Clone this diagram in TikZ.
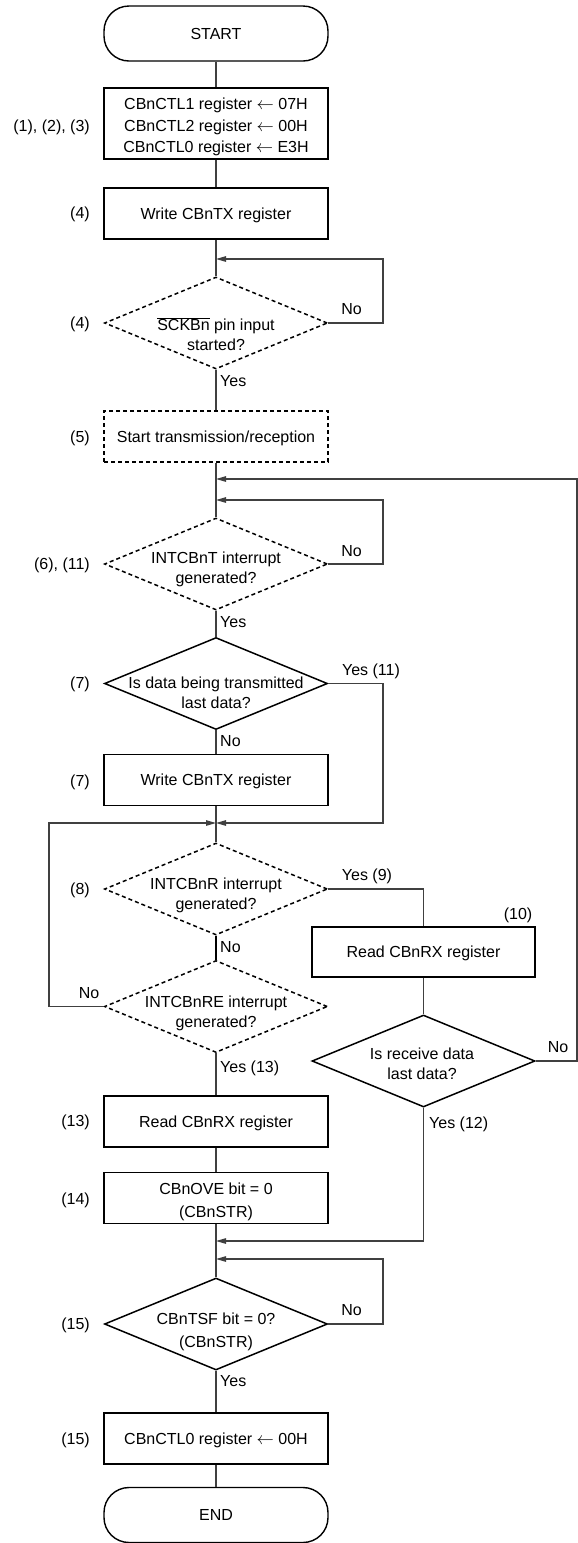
\documentclass[tikz,border=0pt]{standalone}
\usepackage{fontspec}
\setmainfont{Liberation Sans}
\usetikzlibrary{shapes.geometric,arrows.meta}
\begin{document}
\begin{tikzpicture}[x=1pt,y=-1pt,
  every node/.style={font=\fontsize{16}{20}\selectfont, inner sep=0pt},
  tx/.style={text height=11.5pt, text depth=0pt},
  conn/.style={draw=black!75, line width=1.1pt},
  arr/.style={conn, -{Triangle[length=10pt,width=5.5pt]}},
  term/.style={draw, line width=1.4pt, rounded corners=25pt, minimum width=224pt, minimum height=55pt, tx},
  proc/.style={draw, line width=1.9pt, minimum width=224pt, minimum height=51pt},
  dproc/.style={proc, dash pattern=on 4pt off 3pt},
  dec/.style={draw, diamond, line width=1.5pt, minimum width=223pt, minimum height=92pt},
  ddec/.style={dec, dash pattern=on 4pt off 3pt},
  lbl/.style={anchor=east, tx},
  txt/.style={align=center},
]
\useasboundingbox (0,0) rectangle (578,1543);

% terminals and boxes
\node[term] (start) at (216,33.5) {START};
\node[proc, minimum height=71pt] (b1) at (216,123.5) {};
\node[txt, font=\fontsize{16}{21.5}\selectfont] (b1t) at (216,127) {CBnCTL1 register $\leftarrow$ 07H\\CBnCTL2 register $\leftarrow$ 00H\\CBnCTL0 register $\leftarrow$ E3H};
\node[proc, tx] (b2) at (216,213.5) {Write CBnTX register};
\node[ddec] (d1) at (216,323) {};
\node[txt] (d1t) at (216,334) {$\overline{\mbox{SCKBn}}$ pin input\\started?};
\node[dproc, tx] (b5) at (216,436.5) {Start transmission/reception};
\node[ddec] (d2) at (216,564) {};
\node[txt] (d2t) at (216,569) {INTCBnT interrupt\\generated?};
\node[dec] (d3) at (216,683.5) {};
\node[txt] (d3t) at (216,692.5) {Is data being transmitted\\last data?};
\node[proc, tx] (b7) at (216,780) {Write CBnTX register};
\node[ddec] (d4) at (216,889) {};
\node[txt] (d4t) at (216,895) {INTCBnR interrupt\\generated?};
\node[ddec] (d5) at (216,1006.5) {};
\node[txt] (d5t) at (216,1013) {INTCBnRE interrupt\\generated?};
\node[proc, tx] (b13) at (216,1121.5) {Read CBnRX register};
\node[proc] (b14) at (216,1198) {};
\node[txt, font=\fontsize{16}{23}\selectfont] (b14t) at (216,1202) {CBnOVE bit = 0\\(CBnSTR)};
\node[dec] (d7) at (216,1324) {};
\node[txt, font=\fontsize{16}{23}\selectfont] (d7t) at (216,1332) {CBnTSF bit = 0?\\(CBnSTR)};
\node[proc, tx] (b15) at (216,1438.5) {CBnCTL0 register $\leftarrow$ 00H};
\node[term] (end) at (216,1515) {END};

\node[proc, tx, minimum width=223pt, minimum height=50pt] (b10) at (423.5,952) {Read CBnRX register};
\node[dec] (d6) at (423.5,1061) {};
\node[txt] (d6t) at (422,1064) {Is receive data\\last data?};

% step labels
\node[lbl] (l1) at (90,126) {(1), (2), (3)};
\node[lbl] (l2) at (90,213) {(4)};
\node[lbl] (l3) at (90,323) {(4)};
\node[lbl] (l4) at (90,437) {(5)};
\node[lbl] (l5) at (90,564) {(6), (11)};
\node[lbl] (l6) at (90,683) {(7)};
\node[lbl] (l7) at (90,781) {(7)};
\node[lbl] (l8) at (90,889) {(8)};
\node[lbl] (l9) at (90,1121) {(13)};
\node[lbl] (l10) at (90,1199) {(14)};
\node[lbl] (l11) at (90,1324) {(15)};
\node[lbl] (l12) at (90,1439) {(15)};
\node[tx] (l13) at (518,914) {(10)};

% connector coordinates
\coordinate (xR) at (383,0);
\coordinate (xL) at (49,0);
\coordinate (xE) at (577,0);
\coordinate (m1) at (216,259);
\coordinate (m2) at (216,479);
\coordinate (m3) at (216,500);
\coordinate (m4) at (216,823);
\coordinate (m5) at (216,1241);
\coordinate (m6) at (216,1259);

% connectors
\draw[conn] (start.south) -- (b1.north);
\draw[conn] (b1.south) -- (b2.north);
\draw[conn] (b2.south) -- (d1.north);
\draw[arr] (d1.east) -- (d1.east -| xR) |- (m1);
\draw[conn] (d1.south) -- (b5.north);
\draw[conn] (b5.south) -- (d2.north);
\draw[arr] (d2.east) -- (d2.east -| xR) |- (m3);
\draw[arr] (d6.east) -- (d6.east -| xE) |- (m2);
\draw[conn] (d2.south) -- (d3.north);
\draw[conn] (d3.south) -- (b7.north);
\draw[arr] (d3.east) -- (d3.east -| xR) |- (m4);
\draw[conn] (b7.south) -- (d4.north);
\draw[conn] (d4.east) -| (b10.north);
\draw[conn, draw=black, line width=1.7pt] (d4.south) -- (d5.north);
\draw[arr] (d5.west) -- (d5.west -| xL) |- (m4);
\draw[conn] (d5.south) -- (b13.north);
\draw[conn] (b13.south) -- (b14.north);
\draw[conn] (b14.south) -- (d7.north);
\draw[conn] (b10.south) -- (d6.north);
\draw[arr] (d6.south) |- (m5);
\draw[arr] (d7.east) -- (d7.east -| xR) |- (m6);
\draw[conn] (d7.south) -- (b15.north);
\draw[conn] (b15.south) -- (end.north);

% connector labels
\node[tx] (n1) at (351.5,309) {No};
\node[tx, anchor=west] (y1) at (220,381) {Yes};
\node[tx] (n2) at (351.5,551) {No};
\node[tx, anchor=west] (y2) at (220,622) {Yes};
\node[tx] (y3) at (371,670) {Yes (11)};
\node[tx, anchor=west] (n3) at (220,741) {No};
\node[tx] (y4) at (367,875) {Yes (9)};
\node[tx, anchor=west] (n4) at (220,947) {No};
\node[tx] (n5) at (89,993) {No};
\node[tx, anchor=west] (y5) at (220,1067) {Yes (13)};
\node[tx] (n6) at (558,1047) {No};
\node[tx, anchor=west] (y6) at (429,1123) {Yes (12)};
\node[tx] (n7) at (351.5,1310) {No};
\node[tx, anchor=west] (y7) at (220,1381) {Yes};
\end{tikzpicture}
\end{document}
